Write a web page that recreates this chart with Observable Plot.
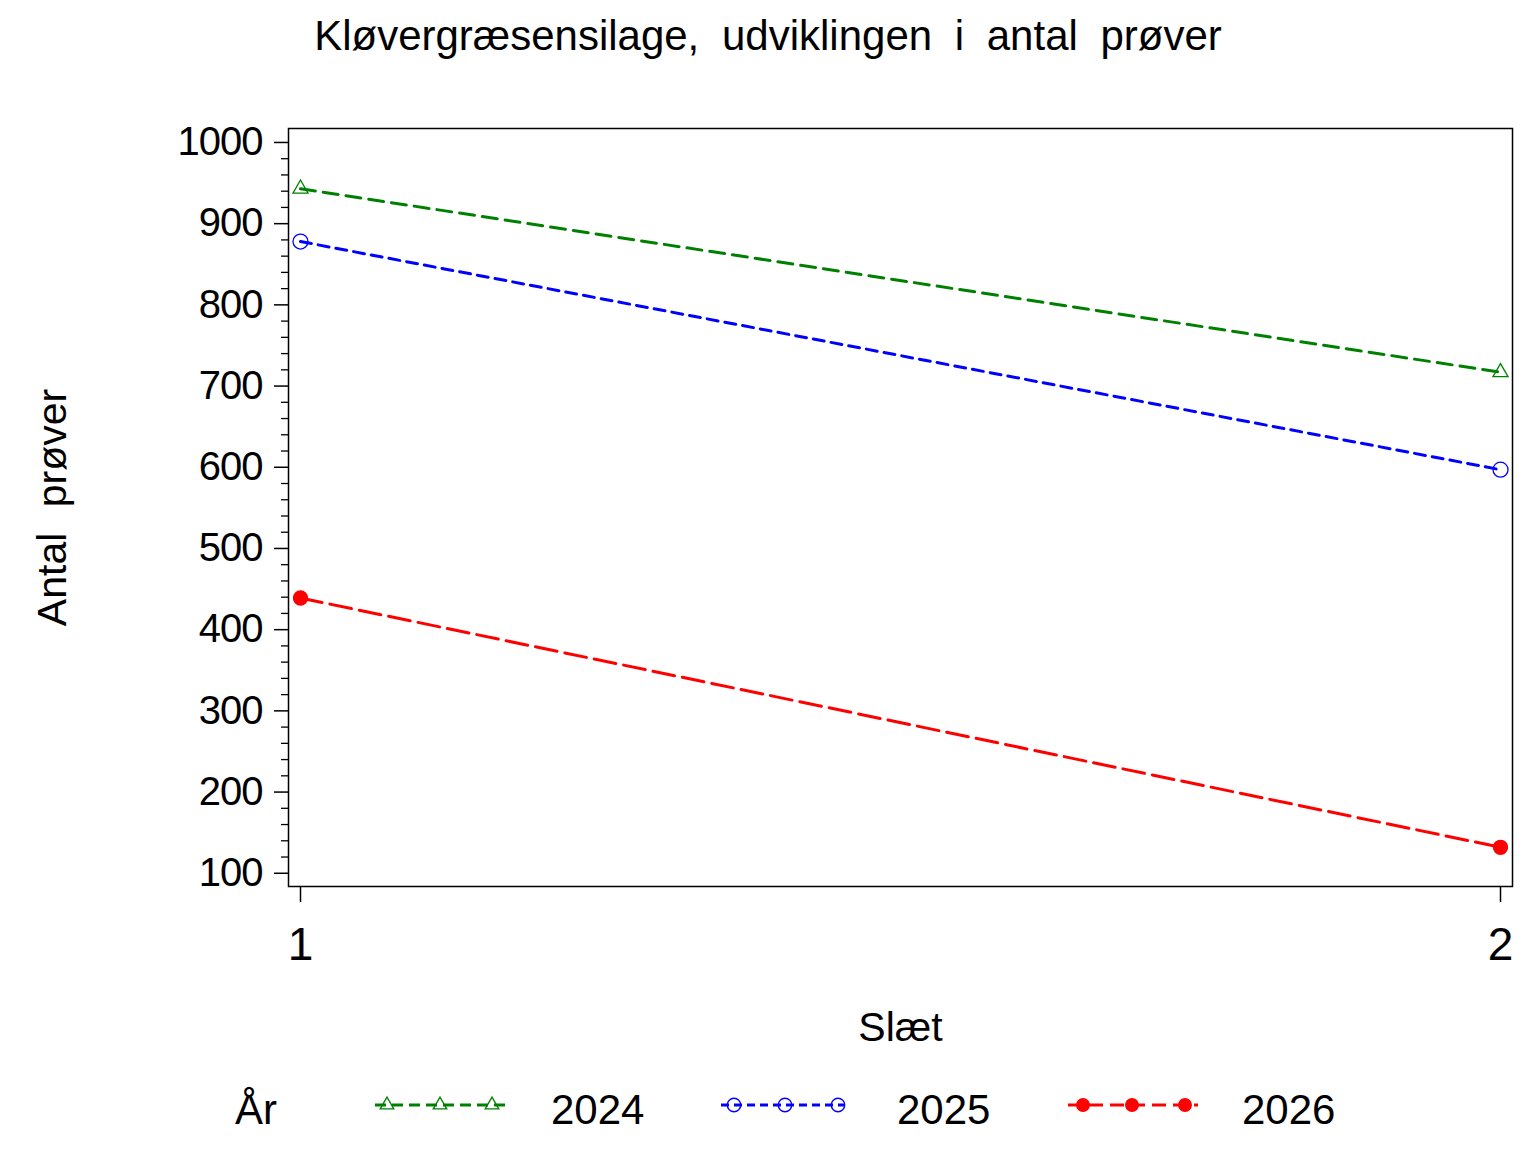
<!DOCTYPE html>
<html>
<head>
<meta charset="utf-8">
<script src="https://cdn.jsdelivr.net/npm/d3@7"></script>
<script src="https://cdn.jsdelivr.net/npm/@observablehq/plot@0.6"></script>
<style>
  html, body { margin: 0; padding: 0; background: white; }
  #page { position: relative; width: 1536px; height: 1152px; font-family: "Liberation Sans", Arial, Helvetica, sans-serif; color: black; }
  #title { position: absolute; left: 0; top: 12px; width: 1536px; text-align: center; font-size: 42px; line-height: 48px; word-spacing: 11px; }
  #chart { position: absolute; left: 0; top: 90px; }
  .leg { position: absolute; font-size: 42px; line-height: 48px; }
  .legsw { position: absolute; }
  g[aria-label="y-axis tick label"] text { letter-spacing: -1px; }
</style>
</head>
<body>
<div id="page">
  <div id="title"></div>
  <div id="chart"></div>
  <div id="legend"></div>
</div>
<script>
// ---- data ----
const slaet = [1, 2];
const years = ["2024", "2025", "2026"];
const antal2024 = [943, 717];
const antal2025 = [878, 597];
const antal2026 = [439, 132];
const yMajorTicks = [100, 200, 300, 400, 500, 600, 700, 800, 900, 1000];
const yMinorTicks = d3.range(100, 1001, 20).filter(v => v % 100 !== 0);
const xTicks = [1, 2];
const titleText = "Kløvergræsensilage, udviklingen i antal prøver";
const xLabel = "Slæt";
const yLabel = "Antal prøver";
const legendTitle = "År";

// ---- styles ----
const seriesStyle = {
  "2024": {color: "#008000", dash: "15,8", legDash: "11,6", symbol: "triangle", r: 5.6, fill: "none"},
  "2025": {color: "#0000ff", dash: "11,7", legDash: "8,5", symbol: "circle", r: 7.5, fill: "none"},
  "2026": {color: "#ff0000", dash: "22,8", legDash: "14,7", symbol: "circle", r: 7, fill: "#ff0000"}
};
const seriesValues = {"2024": antal2024, "2025": antal2025, "2026": antal2026};
const rows = years.flatMap(yr => slaet.map((s, i) => ({year: yr, slaet: s, antal: seriesValues[yr][i]})));

document.getElementById("title").textContent = titleText;
const font = "\"Liberation Sans\", Arial, Helvetica, sans-serif";

const marks = [
  Plot.frame({stroke: "black", strokeWidth: 1.5}),
  Plot.axisY(yMinorTicks, {tickSize: 7, tickFormat: () => "", strokeWidth: 1.3, label: null}),
  Plot.axisY(yMajorTicks, {tickSize: 14, tickPadding: 12, fontSize: 40, strokeWidth: 1.5, label: null, tickFormat: d => String(d)}),
  Plot.axisX(xTicks, {tickSize: 16, tickPadding: 25, fontSize: 46, strokeWidth: 1.5, label: null, tickFormat: d => String(d)}),
  Plot.text([yLabel], {frameAnchor: "left", textAnchor: "middle", dx: -236, rotate: -90, fontSize: 41, text: d => d}),
  Plot.text([xLabel], {frameAnchor: "bottom", textAnchor: "middle", dy: 154, fontSize: 41, text: d => d})
];
for (const yr of years) {
  const st = seriesStyle[yr];
  const data = rows.filter(d => d.year === yr);
  marks.push(Plot.line(data, {x: "slaet", y: "antal", stroke: st.color, strokeWidth: 3, strokeDasharray: st.dash}));
  marks.push(Plot.dot(data, {x: "slaet", y: "antal", symbol: st.symbol, r: st.r, stroke: st.color, fill: st.fill, strokeWidth: 1.3}));
}

const chart = Plot.plot({
  width: 1536,
  height: 980,
  marginTop: 38,
  marginBottom: 184,
  marginLeft: 288,
  marginRight: 24,
  style: {fontFamily: font, background: "white", color: "black"},
  x: {type: "linear", domain: [0.99, 2.01], axis: null},
  y: {domain: [83.7, 1017.2], axis: null},
  marks
});
d3.select(chart).selectAll("text").filter(function() { return this.textContent === yLabel; })
  .style("word-spacing", "14px");
document.getElementById("chart").append(chart);

// ---- legend ----
const legend = document.getElementById("legend");
const legTop = 1086;
function addText(txt, left) {
  const d = document.createElement("div");
  d.className = "leg";
  d.style.left = left + "px";
  d.style.top = legTop + "px";
  d.textContent = txt;
  legend.append(d);
}
addText(legendTitle, 235);
const legendItems = [
  {year: "2024", swLeft: 370, line: [5, 135], syms: [17, 70, 122], textLeft: 551},
  {year: "2025", swLeft: 716, line: [5, 129], syms: [18, 69, 122], textLeft: 897},
  {year: "2026", swLeft: 1062, line: [6, 136], syms: [21, 70, 123], textLeft: 1242}
];
for (const it of legendItems) {
  const st = seriesStyle[it.year];
  const svg = d3.create("svg").attr("class", "legsw").attr("width", 145).attr("height", 30)
    .style("left", it.swLeft + "px").style("top", "1090px");
  svg.append("line").attr("x1", it.line[0]).attr("x2", it.line[1]).attr("y1", 15).attr("y2", 15)
    .attr("stroke", st.color).attr("stroke-width", 3).attr("stroke-dasharray", st.legDash);
  const sym = d3.symbol(st.symbol === "triangle" ? d3.symbolTriangle : d3.symbolCircle, Math.PI * (st.r * 0.9) ** 2);
  for (const sx of it.syms) {
    svg.append("path").attr("d", sym()).attr("transform", `translate(${sx},15)`)
      .attr("stroke", st.color).attr("fill", st.fill).attr("stroke-width", 1.3);
  }
  legend.append(svg.node());
  addText(it.year, it.textLeft);
}
</script>
</body>
</html>
